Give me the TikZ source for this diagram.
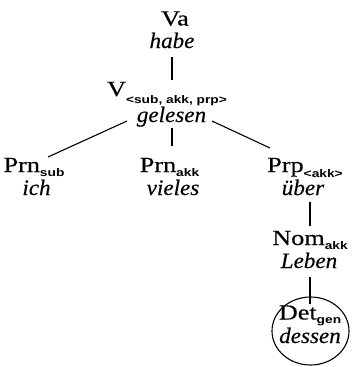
\documentclass[tikz,border=0pt]{standalone}
\usepackage{fontspec}
\setmainfont{Liberation Serif}[UprightFeatures={FakeStretch=1.22,FakeBold=0.3},ItalicFeatures={FakeStretch=1.05,FakeBold=0.3}]
\newfontfamily\subfont{Liberation Sans}[FakeStretch=1.25]
\usetikzlibrary{calc}
\newcommand{\sbs}[2][4.5pt]{\lower#1\hbox{\subfont\bfseries\fontsize{11}{12}\selectfont #2}}
\begin{document}
\begin{tikzpicture}[x=1pt,y=-1pt,
  every node/.style={inner sep=0pt,anchor=base,font=\fontsize{21.5}{23}\selectfont},
  word/.style={font=\fontsize{22}{24}\selectfont\itshape},
  conn/.style={line width=1.1pt}]
\useasboundingbox (0,0) rectangle (351,367);
\node (va) at (175,25.5) {Va};
\node[word] (habe) at (172,48) {habe};
\node (vl) at (167,96) {V\sbs[7pt]{<sub, akk, prp>}};
\node[word] (gel) at (171.5,122) {gelesen};
\node (prnsub) at (34,172) {Prn\sbs{sub}};
\node[word] (ich) at (36.5,195) {ich};
\node (prnakk) at (169.5,172) {Prn\sbs{akk}};
\node[word] (vieles) at (173,195) {vieles};
\node (prp) at (305,172) {Prp\sbs[5pt]{<akk>}};
\node[word] (uber) at (303,195) {über};
\node (nom) at (310,245) {Nom\sbs{akk}};
\node[word] (leben) at (309,268) {Leben};
\node (det) at (310,319.5) {Det\sbs[4pt]{gen}};
\node[word] (dessen) at (310,343) {dessen};
\draw[conn] ($(habe.base)+(0,9)$) -- ($(habe.base)+(0,32)$);
\draw[conn] ($(gel.base)+(-44.5,-1)$) -- ($(prnsub.base)+(14,-15)$);
\draw[conn] ($(gel.base)+(0.5,6)$) -- ($(prnakk.base)+(2.5,-26)$);
\draw[conn] ($(gel.base)+(40.5,-1)$) -- ($(prp.base)+(-35,-24)$);
\draw[conn] ($(nom.base)+(0,-43)$) -- ($(nom.base)+(0,-19)$);
\draw[conn] ($(leben.base)+(1,9)$) -- ($(det.base)+(0,-15.5)$);
\draw[conn] ($(det.base)+(0.5,11.5)$) ellipse [x radius=38.5, y radius=34];
\end{tikzpicture}
\end{document}
